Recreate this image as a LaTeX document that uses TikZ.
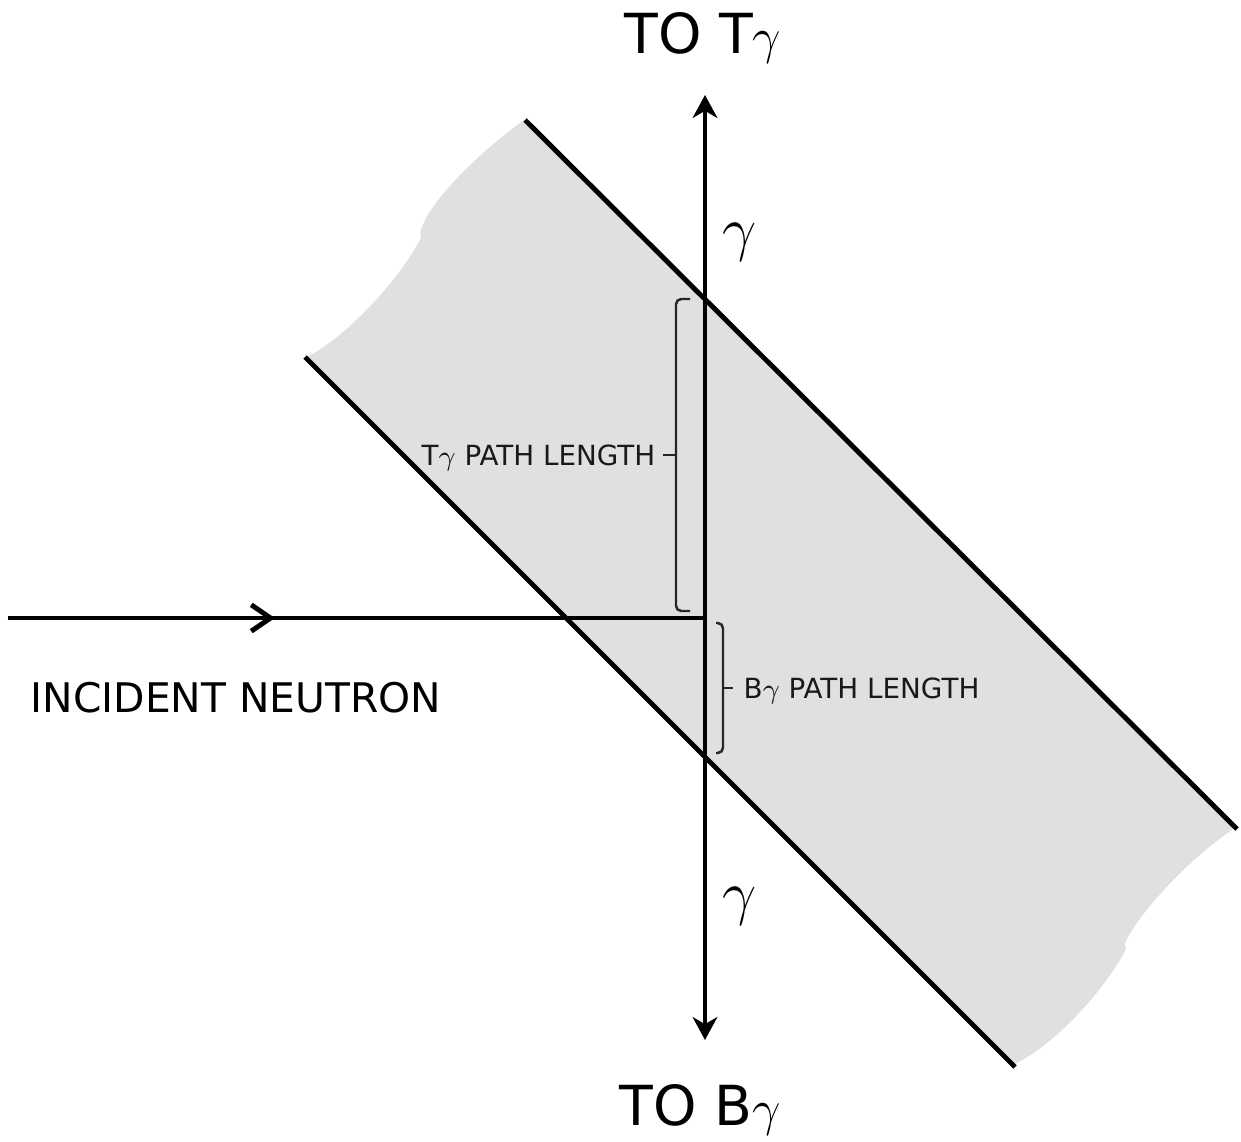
\documentclass[tikz,border=0pt]{standalone}
\usepackage{fontspec}
\setmainfont{DejaVu Sans}
\usetikzlibrary{arrows.meta, decorations.markings}

\begin{document}
\begin{tikzpicture}[x=0.01cm, y=-0.01cm, >={Stealth[length=6.5pt, width=7pt, inset=2pt]},
    edge/.style={line width=1.4pt},
    track/.style={line width=1.4pt},
    brace/.style={line width=0.7pt, black!85, rounded corners=1.5pt},
    bigtxt/.style={font=\fontsize{15.7}{18}\selectfont},
    midtxt/.style={font=\fontsize{11.6}{14}\selectfont},
    smalltxt/.style={font=\fontsize{7.9}{10}\selectfont, text=black!90},
    gam/.style={font=\fontsize{17}{20}\selectfont}]
    \useasboundingbox (0,0) rectangle (1241,1142);

    % slab
    \fill[black!12] (523,121) -- (1235,828)
        .. controls (1198,852) and (1152,898) .. (1131,932)
        .. controls (1127,939) and (1123,944) .. (1126,949)
        .. controls (1105,990) and (1055,1045) .. (1013,1065)
        -- (307,357)
        .. controls (350,335) and (402,275) .. (421,238)
        .. controls (418,232) and (423,225) .. (427,216)
        .. controls (448,182) and (493,142) .. (523,121) -- cycle;
    \draw[edge] (525,120) -- (1237,829);
    \draw[edge] (305,357) -- (1015,1067);

    % rays
    \coordinate (src) at (8,618);
    \coordinate (hit) at (705,618);
    \coordinate (tipT) at (705,95);
    \coordinate (tipB) at (705,1040);
    \draw[track, postaction={decorate}, decoration={markings,
        mark=at position 0.383 with {\arrow{Straight Barb[length=5.5pt, width=7.5pt, line width=1.4pt]}}}]
        (src) -- (hit);
    \draw[track, <->] (tipT) -- (tipB);

    % brackets
    \draw[brace] (690,299) -- (676,299) -- (676,611) -- (690,611);
    \draw[brace] (676,455) -- (663,455);
    \draw[brace] (716,623) -- (723,623) -- (723,753) -- (716,753);
    \draw[brace] (723,688) -- (733,688);

    % labels
    \node[bigtxt, anchor=base] (toT) at (703,53) {TO T$\gamma$};
    \node[bigtxt, anchor=base] (toB) at (700,1125) {TO B$\gamma$};
    \node[gam, anchor=base] (gup) at (740,249) {$\gamma$};
    \node[gam, anchor=base] (gdown) at (740,913) {$\gamma$};
    \node[midtxt, anchor=base west, inner sep=0pt] (neutron) at (30,712) {INCIDENT NEUTRON};
    \node[smalltxt, anchor=base east, inner sep=0pt] (tlen) at (656,465) {T$\gamma$ PATH LENGTH};
    \node[smalltxt, anchor=base west, inner sep=0pt] (blen) at (743,698) {B$\gamma$ PATH LENGTH};
\end{tikzpicture}
\end{document}
